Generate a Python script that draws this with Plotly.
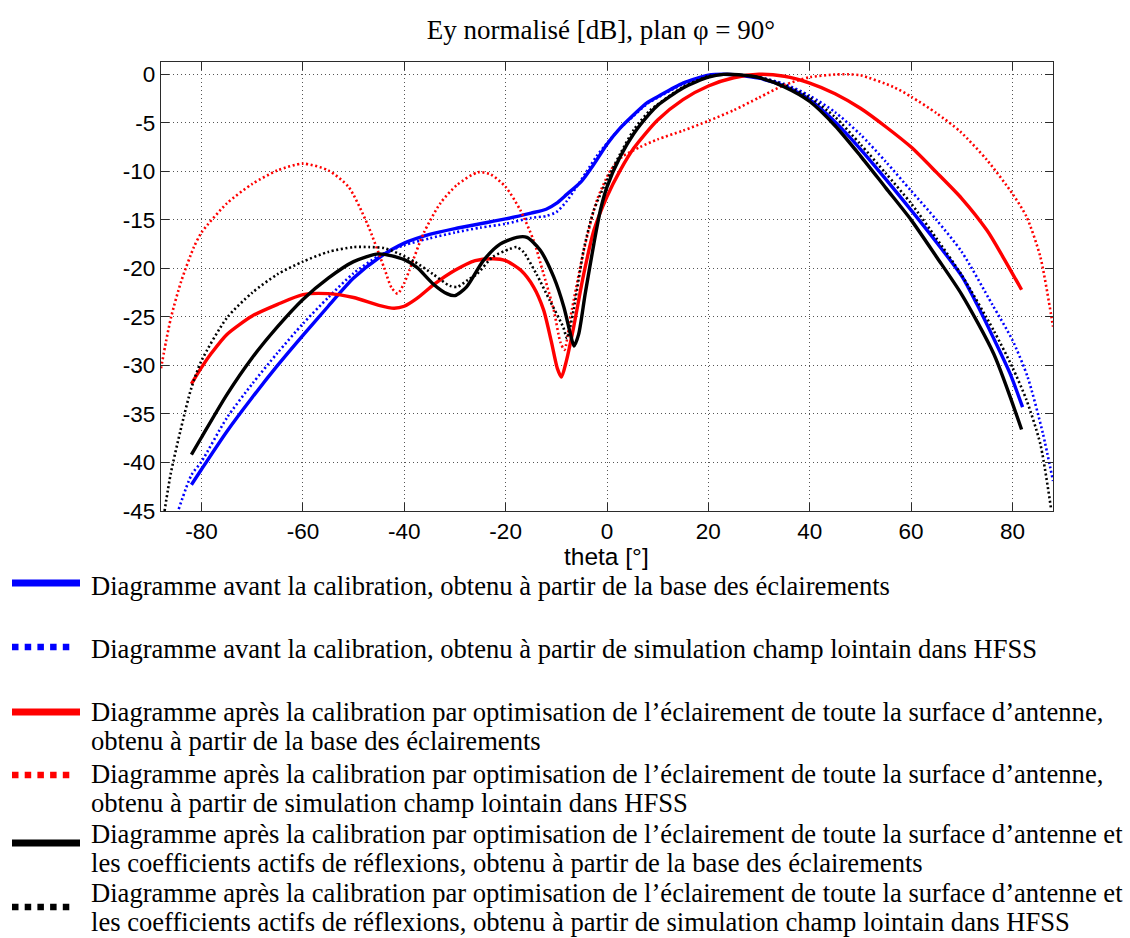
import plotly.graph_objects as go

# ---------------------------------------------------------------
# Normalised Ey pattern, phi = 90 deg cut (theta in deg, level in dB)
# ---------------------------------------------------------------

# before calibration, illumination database
theta_avant_base = [-82, -80, -75, -70, -65, -60, -55, -50, -45, -40, -35, -30, -25,
                    -20, -15, -12, -10, -8, -5, -2.5, 0, 2.5, 5, 8, 10, 15, 20, 23,
                    26, 30, 35, 40, 45, 50, 55, 60, 65, 70, 73, 76, 79.5, 82]
ey_avant_base = [-42.3, -40.7, -36.8, -33.3, -30.0, -26.9, -23.9, -21.0, -18.9, -17.4,
                 -16.5, -15.9, -15.4, -14.9, -14.3, -13.9, -13.3, -12.4, -11.0, -9.2,
                 -7.2, -5.6, -4.3, -2.9, -2.3, -0.9, -0.1, 0.0, -0.1, -0.4, -1.2, -2.6,
                 -4.9, -7.7, -10.8, -14.0, -17.3, -20.8, -23.7, -26.9, -30.8, -34.3]

# before calibration, HFSS far-field simulation
theta_avant_hfss = [-84.5, -82, -80, -75, -70, -65, -60, -55, -50, -45, -40, -35, -30,
                    -25, -20, -15, -12, -10, -8, -6, -4, -2, 0, 2.5, 5, 8, 10, 15, 20,
                    23, 26, 30, 35, 40, 45, 50, 55, 60, 65, 70, 76, 80, 83, 86, 88]
ey_avant_hfss = [-44.8, -41.3, -39.9, -35.4, -31.9, -28.7, -25.7, -23.0, -20.5, -18.7,
                 -17.6, -16.9, -16.3, -15.8, -15.4, -14.8, -14.6, -14.2, -13.1, -11.6,
                 -10.0, -8.4, -7.1, -5.6, -4.4, -3.0, -2.4, -1.0, -0.1, 0.0, -0.1, -0.3,
                 -1.0, -2.2, -3.9, -6.2, -9.0, -12.0, -15.0, -18.3, -23.7, -27.4, -31.2,
                 -37.0, -41.9]

# after calibration (surface illumination), illumination database
theta_apres_base = [-82, -80, -78, -75, -70, -65, -60, -55, -50, -45, -42, -40, -37.5,
                    -34, -30, -26, -22.5, -20, -17, -14.5, -12.5, -11, -9.8, -9, -8,
                    -6.6, -4.6, -2.6, 0, 2.6, 5.3, 10, 15, 20, 25, 30, 35, 40,
                    45, 50, 55, 60, 65, 70, 75, 78, 81.8]
ey_apres_base = [-31.9, -30.2, -28.7, -26.8, -24.9, -23.7, -22.7, -22.6, -23.0, -23.8,
                 -24.1, -23.9, -23.1, -21.6, -20.2, -19.2, -19.0, -19.2, -20.2, -21.9,
                 -24.3, -27.5, -30.3, -31.2, -29.5, -26.1, -20.6, -16.1, -12.6, -9.9,
                 -7.6, -4.7, -2.6, -1.2, -0.35, 0.0, -0.2, -0.9, -2.0, -3.5,
                 -5.4, -7.5, -10.1, -12.8, -16.1, -18.7, -22.2]

# after calibration (surface illumination), HFSS far-field simulation
theta_apres_hfss = [-88, -87, -86, -84, -81.5, -80, -75, -70, -65, -60, -55, -51,
                    -47.3, -44, -42.5, -41.3, -40, -39, -36.2, -32.9, -29.6, -25.5,
                    -23, -20, -17.1, -14.5, -12.5, -10.5, -9.2, -8.4, -7.2, -4.6, -2,
                    0.7, 3, 6.5, 10, 15, 20, 25, 30, 35, 40, 45, 47.5, 50, 56.5, 60,
                    65, 69.7, 75, 80, 82.8, 85.5, 87.6, 88]
ey_apres_hfss = [-30.3, -27.5, -25.0, -21.3, -17.8, -16.3, -13.3, -11.3, -9.9, -9.2,
                 -9.9, -11.6, -15.4, -19.9, -22.0, -22.6, -21.5, -20.2, -16.4, -13.3,
                 -11.4, -10.1, -10.3, -11.6, -14.0, -17.1, -20.6, -24.3, -27.6, -28.4,
                 -25.0, -18.2, -13.0, -9.9, -8.5, -7.5, -6.7, -5.8, -4.8, -3.7, -2.4,
                 -1.1, -0.3, -0.02, 0.0, -0.1, -1.3, -2.3, -4.0, -5.9, -8.85, -12.3,
                 -14.7, -18.8, -24.7, -26.0]

# after calibration (illumination + active reflection coefficients), database
theta_apres_refl_base = [-82, -80, -75, -70, -65, -60, -55, -50, -45, -40, -37.5,
                         -34.3, -31.6, -30, -27.7, -24.4, -21.1, -17.8, -15.8, -13.2,
                         -10.5, -8.5, -7.2, -6.5, -5.6, -4.3, -2.6, -1.3, 0, 2.6, 5.3,
                         8.5, 10, 15, 20, 23, 26, 30, 35, 40, 45, 50, 55, 60, 65, 70,
                         76.3, 81.8]
ey_apres_refl_base = [-39.2, -37.4, -33.0, -29.2, -26.0, -23.2, -21.0, -19.3, -18.5,
                      -19.1, -19.9, -21.6, -22.6, -22.8, -21.9, -19.2, -17.5,
                      -16.8, -16.8, -18.1, -20.9, -24.0, -26.8, -28.0, -26.8, -22.6,
                      -17.5, -14.0, -11.6, -8.5, -6.1, -4.0, -3.2, -1.4, -0.3, 0.0,
                      -0.05, -0.35, -1.3, -2.8, -5.3, -8.4, -11.7, -15.0, -18.8, -22.7,
                      -28.8, -36.6]

# after calibration (illumination + active reflection coefficients), HFSS
theta_apres_refl_hfss = [-87.3, -86.1, -84.2, -82, -80, -75, -70, -65, -60, -55, -50,
                         -47, -44, -41, -38, -34.3, -31, -29.5, -27.5, -25.7, -22.5,
                         -19.2, -17.8, -16.5, -13.9, -11.3, -8.6, -7.9, -6.6, -4.6,
                         -2.6, 0, 2.6, 5.3, 8.5, 10, 15, 20, 23, 26, 30, 35, 40, 45,
                         50, 55, 60, 65, 70, 76.3, 80, 82.8, 85.5, 87.6]
ey_apres_refl_hfss = [-45.0, -41.2, -36.8, -32.3, -29.5, -25.1, -22.5, -20.6, -19.3,
                      -18.3, -17.8, -17.8, -17.9, -18.5, -19.3, -20.6, -21.8, -21.9,
                      -21.2, -20.6, -18.8, -18.0, -17.8, -18.3, -20.6, -23.3, -26.1,
                      -27.2, -24.3, -18.1, -14.0, -10.9, -8.2, -5.7, -3.7, -3.1, -1.3,
                      -0.2, 0.0, -0.05, -0.3, -1.1, -2.4, -4.4, -7.2, -10.2, -13.3,
                      -16.9, -20.7, -26.4, -30.2, -33.6, -38.1, -44.7]

x_tick_vals = [-80, -60, -40, -20, 0, 20, 40, 60, 80]
x_tick_text = ["-80", "-60", "-40", "-20", "0", "20", "40", "60", "80"]
y_tick_vals = [0, -5, -10, -15, -20, -25, -30, -35, -40, -45]
y_tick_text = ["0", "-5", "-10", "-15", "-20", "-25", "-30", "-35", "-40", "-45"]

legend_lines = [
    ["Diagramme avant la calibration, obtenu à partir de la base des éclairements"],
    ["Diagramme avant la calibration, obtenu à partir de simulation champ lointain dans HFSS"],
    ["Diagramme après la calibration par optimisation de l’éclairement de toute la surface d’antenne,",
     "obtenu à partir de la base des éclairements"],
    ["Diagramme après la calibration par optimisation de l’éclairement de toute la surface d’antenne,",
     "obtenu à partir de simulation champ lointain dans HFSS"],
    ["Diagramme après la calibration par optimisation de l’éclairement de toute la surface d’antenne et",
     "les coefficients actifs de réflexions, obtenu à partir de la base des éclairements"],
    ["Diagramme après la calibration par optimisation de l’éclairement de toute la surface d’antenne et",
     "les coefficients actifs de réflexions, obtenu à partir de simulation champ lointain dans HFSS"],
]

# ---------------------------------------------------------------
W, H = 1130, 938
ML, MR, MT, MB = 161, 77, 62, 427
PW, PH = W - ML - MR, H - MT - MB


def px(x):
    return (x - ML) / PW


def py(y):
    return (H - MB - y) / PH


DOT = "2px,2.6px"
series = [
    (theta_avant_base, ey_avant_base, "#0000ff", "solid"),
    (theta_avant_hfss, ey_avant_hfss, "#0000ff", "dot"),
    (theta_apres_base, ey_apres_base, "#ff0000", "solid"),
    (theta_apres_hfss, ey_apres_hfss, "#ff0000", "dot"),
    (theta_apres_refl_base, ey_apres_refl_base, "#000000", "solid"),
    (theta_apres_refl_hfss, ey_apres_refl_hfss, "#000000", "dot"),
]

fig = go.Figure()
for i, (th, ey, col, sty) in enumerate(series):
    fig.add_trace(go.Scatter(
        x=th, y=ey, mode="lines",
        name=" ".join(legend_lines[i]),
        line=dict(color=col, width=3.4 if sty == "solid" else 2.6,
                  dash="solid" if sty == "solid" else DOT,
                  shape="spline", smoothing=0.7),
        showlegend=False,
    ))

axis_common = dict(
    showline=True, linecolor="#2b2b2b", linewidth=1.3, mirror="ticks",
    ticks="inside", ticklen=8, tickcolor="#2b2b2b", tickwidth=1.3,
    showgrid=True, gridcolor="#555555", gridwidth=1, griddash="1px,3px",
    zeroline=False,
    tickfont=dict(family="Liberation Sans, Arial", size=22.5, color="#000000"),
)

fig.update_xaxes(range=[-88, 88], tickvals=x_tick_vals, ticktext=x_tick_text,
                 **axis_common)
fig.update_yaxes(range=[-45, 1.27], tickvals=y_tick_vals, ticktext=y_tick_text,
                 **axis_common)

# legend drawn below the axes: sample strokes + wrapped text lines
legend_styles = [
    ("#0000ff", "solid", 583, [586]),
    ("#0000ff", "dot", 647, [649]),
    ("#ff0000", "solid", 712, [712, 741]),
    ("#ff0000", "dot", 775, [774, 803]),
    ("#000000", "solid", 843, [834, 863]),
    ("#000000", "dot", 907, [893, 922]),
]
shapes = []
annotations = [dict(
    text="theta [°]", xref="paper", yref="paper", x=px(606), y=py(556),
    xanchor="center", yanchor="middle", showarrow=False, borderpad=0,
    font=dict(family="Liberation Sans, Arial", size=24.5, color="#000000"),
)]
for (col, sty, ly, tys), lines in zip(legend_styles, legend_lines):
    if sty == "solid":
        shapes.append(dict(type="line", xref="paper", yref="paper",
                           x0=px(12), x1=px(80), y0=py(ly), y1=py(ly),
                           line=dict(color=col, width=7)))
    else:
        shapes.append(dict(type="line", xref="paper", yref="paper",
                           x0=px(12), x1=px(73), y0=py(ly), y1=py(ly),
                           line=dict(color=col, width=6.5, dash="6.5px,6.2px")))
    for ty, txt in zip(tys, lines):
        annotations.append(dict(
            text=txt, xref="paper", yref="paper", x=px(90), y=py(ty),
            xanchor="left", yanchor="middle", showarrow=False, borderpad=0,
            font=dict(family="Liberation Serif, Times New Roman", size=26.6,
                      color="#000000"),
        ))

fig.update_layout(
    width=W, height=H,
    margin=dict(l=ML, r=MR, t=MT, b=MB, pad=0),
    paper_bgcolor="#ffffff", plot_bgcolor="#ffffff",
    title=dict(text="Ey normalisé [dB], plan φ = 90°",
               x=px(601), xanchor="center", xref="paper",
               y=1 - 30 / H, yanchor="middle", yref="container",
               font=dict(family="Liberation Serif, Times New Roman", size=27,
                         color="#000000")),
    shapes=shapes,
    annotations=annotations,
    showlegend=False,
)

fig.write_html("out.html")
